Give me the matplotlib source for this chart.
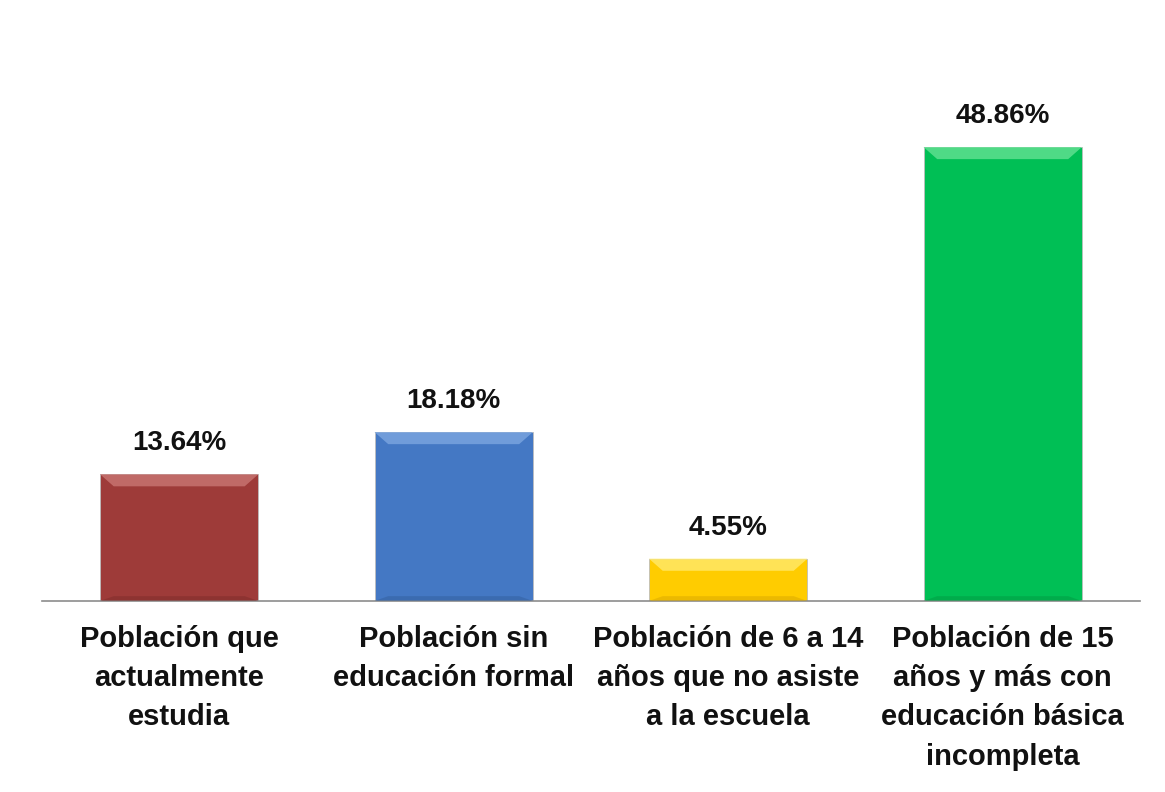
import matplotlib
matplotlib.use("Agg")
from matplotlib import pyplot as plt
from matplotlib.patches import Polygon

categories = [
    "Población que\nactualmente\nestudia",
    "Población sin\neducación formal",
    "Población de 6 a 14\naños que no asiste\na la escuela",
    "Población de 15\naños y más con\neducación básica\nincompleta",
]
values = [13.64, 18.18, 4.55, 48.86]
value_labels = ["13.64%", "18.18%", "4.55%", "48.86%"]
colors = ["#9E3B39", "#4478C4", "#FFCC00", "#00BF55"]
light = ["#C77370", "#78A3DE", "#FFE866", "#5EE08F"]
dark = ["#7E2C2A", "#335F9E", "#D9A800", "#009A43"]

plt.rcParams["font.family"] = ["Liberation Sans", "DejaVu Sans"]

fig = plt.figure(figsize=(11.65, 7.92), dpi=100)
ax = fig.add_axes([0.036, 0.2412, 0.9425, 0.6326])

x = list(range(len(values)))
width = 0.577
bars = ax.bar(x, values, width=width, color=colors, edgecolor="#BDBDBD",
              linewidth=0.6, zorder=2)

ax.set_xlim(-0.5, 3.5)
ax.set_ylim(0, 53.93)

# simple bevel on each bar
bev_x = 0.05
bev_y = 1.3
for i, b in enumerate(bars):
    x0 = b.get_x()
    x1 = x0 + b.get_width()
    h = b.get_height()
    by = min(bev_y, h / 3)
    top = Polygon([(x0, h), (x1, h), (x1 - bev_x, h - by), (x0 + bev_x, h - by)],
                  closed=True, facecolor=light[i], edgecolor="none", zorder=3,
                  alpha=0.85)
    bot = Polygon([(x0, 0), (x1, 0), (x1 - bev_x, by * 0.4), (x0 + bev_x, by * 0.4)],
                  closed=True, facecolor=dark[i], edgecolor="none", zorder=3,
                  alpha=0.5)
    ax.add_patch(top)
    ax.add_patch(bot)
    ax.annotate(value_labels[i], (b.get_x() + b.get_width() / 2, h),
                xytext=(0, 13), textcoords="offset points",
                ha="center", va="bottom", fontsize=20, fontweight="bold",
                color="#111111")

for s in ["top", "right", "left"]:
    ax.spines[s].set_visible(False)
ax.spines["bottom"].set_color("#8C8C8C")
ax.spines["bottom"].set_linewidth(1.2)
ax.set_yticks([])
ax.set_xticks(x)
ax.set_xticklabels(categories, fontsize=21, fontweight="bold", linespacing=1.52,
                   color="#111111")
ax.tick_params(axis="x", length=0, pad=17)

plt.savefig("out.png", dpi=100)
